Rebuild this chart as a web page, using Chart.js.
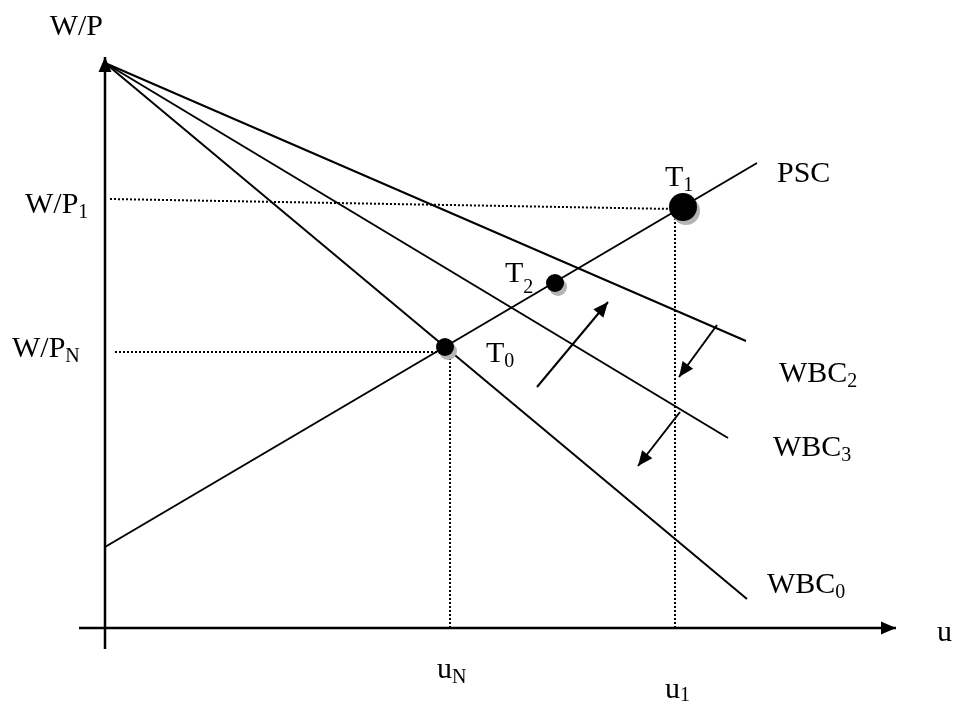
<!DOCTYPE html>
<html>
<head>
<meta charset="utf-8">
<script src="https://cdn.jsdelivr.net/npm/chart.js@4"></script>
<style>
  html, body { margin: 0; padding: 0; background: #fff; }
  canvas { display: block; }
</style>
</head>
<body>
<canvas id="chart1" width="954" height="710"></canvas>
<script>
// u on the x axis, W/P on the y axis (arbitrary units)
const wbc2 = [{x: 0, y: 11.3}, {x: 12.82, y: 5.74}];
const wbc3 = [{x: 0, y: 11.3}, {x: 12.46, y: 3.8}];
const wbc0 = [{x: 0, y: 11.3}, {x: 12.84, y: 0.58}];
const psc = [{x: 0, y: 1.62}, {x: 13.04, y: 9.3}];

const pointNames = ['T0', 'T2', 'T1'];
const pointU = [6.8, 9.0, 11.56];
const pointW = [5.62, 6.9, 8.42];

const yTickMain = ['W/P', 'W/P'];
const yTickSub = ['1', 'N'];
const xTickMain = ['u', 'u'];
const xTickSub = ['N', '1'];

const guideWP1 = [{x: 0.1, y: 8.58}, {x: 11.4, y: 8.38}];
const guideU1 = [{x: 11.4, y: 8.2}, {x: 11.4, y: 0}];
const guideWPN = [{x: 0.2, y: 5.52}, {x: 6.8, y: 5.52}];
const guideUN = [{x: 6.9, y: 5.4}, {x: 6.9, y: 0}];

const shiftArrows = [
    [{x: 8.64, y: 4.82}, {x: 10.06, y: 6.52}],
    [{x: 12.24, y: 6.06}, {x: 11.48, y: 5.02}],
    [{x: 11.5, y: 4.32}, {x: 10.66, y: 3.24}]
];
const xAxisLine = [{x: -0.52, y: 0}, {x: 15.82, y: 0}];
const yAxisLine = [{x: 0, y: -0.42}, {x: 0, y: 11.42}];

const serif = '"Liberation Serif", "Times New Roman", serif';

function seg(data, width, dash, arrow) {
    return {
        type: 'line',
        data: data,
        borderColor: '#000',
        borderWidth: width,
        borderDash: dash || [],
        pointRadius: 0,
        fill: false,
        tension: 0,
        clip: false,
        arrow: !!arrow
    };
}

function drawText(ctx, px, py, main, sub, drop, align) {
    ctx.font = '30px ' + serif;
    const w1 = ctx.measureText(main).width;
    ctx.font = '20px ' + serif;
    const w2 = sub ? ctx.measureText(sub).width : 0;
    let left = px;
    if (align === 'right') left = px - w1 - w2;
    ctx.fillStyle = '#000';
    ctx.textBaseline = 'alphabetic';
    ctx.textAlign = 'left';
    ctx.font = '30px ' + serif;
    ctx.fillText(main, left, py);
    if (sub) {
        ctx.font = '20px ' + serif;
        ctx.fillText(sub, left + w1, py + drop);
    }
}

const diagramPlugin = {
    id: 'diagram',
    beforeDatasetDraw(chart, args) {
        if (chart.data.datasets[args.index].id !== 'dots') return;
        const ctx = chart.ctx;
        ctx.save();
        ctx.fillStyle = '#b4b4b4';
        args.meta.data.forEach(function (pt) {
            ctx.beginPath();
            ctx.arc(pt.x + 3, pt.y + 4, pt.options.radius, 0, Math.PI * 2);
            ctx.fill();
        });
        ctx.restore();
    },
    afterDatasetsDraw(chart) {
        const ctx = chart.ctx;
        ctx.save();
        ctx.fillStyle = '#000';
        chart.data.datasets.forEach(function (ds, i) {
            if (!ds.arrow) return;
            const pts = chart.getDatasetMeta(i).data;
            const a = pts[pts.length - 2], b = pts[pts.length - 1];
            const ang = Math.atan2(b.y - a.y, b.x - a.x);
            const len = 15, half = 6.5;
            ctx.beginPath();
            ctx.moveTo(b.x, b.y);
            ctx.lineTo(b.x - len * Math.cos(ang) + half * Math.sin(ang), b.y - len * Math.sin(ang) - half * Math.cos(ang));
            ctx.lineTo(b.x - len * Math.cos(ang) - half * Math.sin(ang), b.y - len * Math.sin(ang) + half * Math.cos(ang));
            ctx.closePath();
            ctx.fill();
        });

        const sx = chart.scales.x, sy = chart.scales.y;
        const X = v => sx.getPixelForValue(v), Y = v => sy.getPixelForValue(v);

        // axis titles
        drawText(ctx, X(-0.04), Y(11.86), 'W/P', '', 0, 'right');
        drawText(ctx, X(16.64), Y(-0.26), 'u', '', 0);

        // tick-style labels
        drawText(ctx, X(-1.6), Y(8.3), yTickMain[0], yTickSub[0], 5);
        drawText(ctx, X(-1.86), Y(5.42), yTickMain[1], yTickSub[1], 5);
        drawText(ctx, X(6.64), Y(-1.0), xTickMain[0], xTickSub[0], 5);
        drawText(ctx, X(11.2), Y(-1.4), xTickMain[1], xTickSub[1], 3);

        // curve names
        drawText(ctx, X(13.44), Y(8.92), 'PSC', '', 0);
        drawText(ctx, X(13.48), Y(4.92), 'WBC', '2', 5);
        drawText(ctx, X(13.36), Y(3.44), 'WBC', '3', 5);
        drawText(ctx, X(13.24), Y(0.7), 'WBC', '0', 5);

        // equilibrium points
        drawText(ctx, X(7.62), Y(5.32), pointNames[0].charAt(0), pointNames[0].slice(1), 5);
        drawText(ctx, X(8.0), Y(6.92), pointNames[1].charAt(0), pointNames[1].slice(1), 11);
        drawText(ctx, X(11.2), Y(8.84), pointNames[2].charAt(0), pointNames[2].slice(1), 5);
        ctx.restore();
    }
};

const dots = pointU.map((u, i) => ({x: u, y: pointW[i]}));

const datasets = [
    {
        id: 'dots',
        type: 'scatter',
        data: dots,
        backgroundColor: '#000',
        borderColor: '#000',
        borderWidth: 0,
        pointRadius: ctx => (ctx.dataIndex === 2 ? 14 : 9),
        clip: false
    },
    seg(wbc2, 2),
    seg(wbc3, 2),
    seg(wbc0, 2),
    seg(psc, 2),
    seg(guideWP1, 2, [2, 2]),
    seg(guideU1, 2, [2, 2]),
    seg(guideWPN, 2, [2, 2]),
    seg(guideUN, 2, [2, 2]),
    seg(shiftArrows[0], 2, null, true),
    seg(shiftArrows[1], 2, null, true),
    seg(shiftArrows[2], 2, null, true),
    seg(xAxisLine, 2.5, null, true),
    seg(yAxisLine, 2.5, null, true)
];

const chart1 = new Chart(document.getElementById('chart1').getContext('2d'), {
    type: 'scatter',
    data: { datasets: datasets },
    options: {
        responsive: false,
        animation: false,
        layout: { padding: 0, autoPadding: false },
        plugins: {
            legend: { display: false },
            tooltip: { enabled: false }
        },
        scales: {
            x: { type: 'linear', display: false, min: -2.1, max: 16.98 },
            y: { type: 'linear', display: false, min: -1.64, max: 12.56 }
        }
    },
    plugins: [diagramPlugin]
});
</script>
</body>
</html>
